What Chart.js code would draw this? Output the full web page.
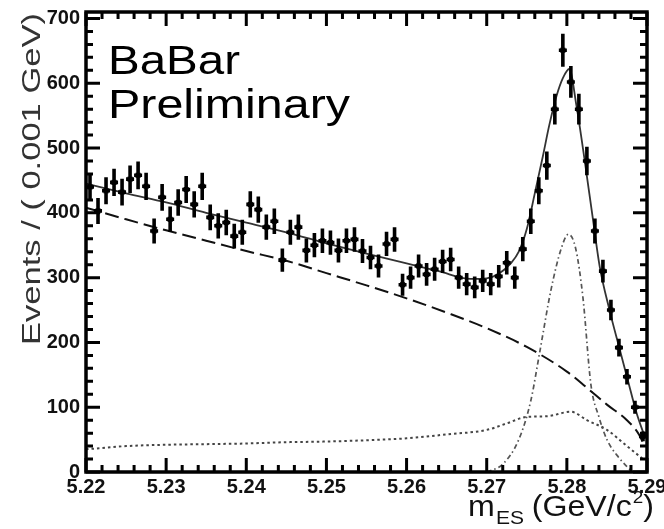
<!DOCTYPE html>
<html>
<head>
<meta charset="utf-8">
<script src="https://cdn.jsdelivr.net/npm/chart.js@4.4.1/dist/chart.umd.min.js"></script>
<style>
  html, body { margin: 0; padding: 0; background: #fff; }
  canvas { display: block; }
</style>
</head>
<body>
<canvas id="mesChart" width="664" height="529"></canvas>
<script>
// bin centres (GeV/c^2), 1 MeV bins
const binCenters = [
  5.2205, 5.2215, 5.2225, 5.2235, 5.2245, 5.2255, 5.2265, 5.2275, 5.2285, 5.2295,
  5.2305, 5.2315, 5.2325, 5.2335, 5.2345, 5.2355, 5.2365, 5.2375, 5.2385, 5.2395,
  5.2405, 5.2415, 5.2425, 5.2435, 5.2445, 5.2455, 5.2465, 5.2475, 5.2485, 5.2495,
  5.2505, 5.2515, 5.2525, 5.2535, 5.2545, 5.2555, 5.2565, 5.2575, 5.2585, 5.2595,
  5.2605, 5.2615, 5.2625, 5.2635, 5.2645, 5.2655, 5.2665, 5.2675, 5.2685, 5.2695,
  5.2705, 5.2715, 5.2725, 5.2735, 5.2745, 5.2755, 5.2765, 5.2775, 5.2785, 5.2795,
  5.2805, 5.2815, 5.2825, 5.2835, 5.2845, 5.2855, 5.2865, 5.2875, 5.2885, 5.2895
];
const eventCounts = [
  440, 403, 434, 447, 432, 452, 458, 441, 372, 424,
  390, 416, 436, 413, 441, 393, 380, 385, 364, 370,
  413, 405, 378, 387, 327, 370, 378, 342, 350, 357,
  354, 342, 357, 359, 341, 331, 318, 352, 359, 289,
  300, 318, 305, 313, 325, 328, 300, 290, 285, 295,
  290, 302, 323, 300, 344, 387, 434, 473, 560, 651,
  602, 560, 480, 372, 310, 250, 192, 147, 100, 55
];

// total fit (solid)
const totalX = [5.220, 5.225, 5.230, 5.235, 5.240, 5.245, 5.250, 5.255, 5.260, 5.264, 5.268, 5.270, 5.2715,
  5.273, 5.274, 5.275, 5.276, 5.277, 5.2778, 5.2787, 5.2795, 5.2803, 5.2812, 5.2822, 5.2832, 5.2841,
  5.2853, 5.2866, 5.2876, 5.2887, 5.2897];
const totalY = [445, 430, 416, 400, 385, 370, 353, 337, 322, 310, 298, 299, 306,
  322, 340, 375, 430, 487, 535, 580, 608, 622, 565, 483, 395, 317,
  251, 189, 142, 91, 55];

// combinatorial background (dashed)
const combX = [5.220, 5.225, 5.230, 5.235, 5.240, 5.245, 5.250, 5.255, 5.260, 5.265, 5.270, 5.275, 5.280,
  5.2825, 5.285, 5.2875, 5.289, 5.2895];
const combY = [408, 390, 373, 357, 341, 326, 307, 288, 268, 246, 222, 193, 155,
  130, 104, 80, 58, 45];

// signal (dash-dot)
const sigX = [5.2700, 5.2720, 5.2740, 5.2755, 5.2766, 5.2780, 5.2793, 5.2802, 5.2811, 5.2820,
  5.2830, 5.2840, 5.2850, 5.2865, 5.2880];
const sigY = [0, 12, 50, 110, 184, 280, 345, 367, 345, 270, 135, 85, 50, 22, 2];

// peaking background (dotted)
const peakX = [5.220, 5.225, 5.230, 5.235, 5.240, 5.245, 5.250, 5.255, 5.260, 5.265, 5.270, 5.2725,
  5.275, 5.2775, 5.2805, 5.2825, 5.285, 5.2875, 5.2895];
const peakY = [35, 40, 42, 43, 44, 46, 47, 49, 52, 58, 65, 75, 85, 86, 93, 80, 65, 40, 20];

const xTicks = [5.22, 5.23, 5.24, 5.25, 5.26, 5.27, 5.28, 5.29];
const yTicks = [0, 100, 200, 300, 400, 500, 600, 700];

const toPts = (xs, ys) => xs.map((x, i) => ({ x: x, y: ys[i] }));
const FONT = '"Liberation Sans", Arial, sans-serif';

// error bars (sqrt N) over the data markers
const errorBarPlugin = {
  id: 'errorBars',
  afterDatasetsDraw(chart) {
    const ctx = chart.ctx;
    const xs = chart.scales.x, ys = chart.scales.y;
    ctx.save();
    ctx.strokeStyle = '#000';
    ctx.lineWidth = 3.6;
    binCenters.forEach((c, i) => {
      const n = eventCounts[i];
      const err = Math.sqrt(n);
      const px = xs.getPixelForValue(c);
      const hw = xs.getPixelForValue(c + 0.0005) - px;
      ctx.beginPath();
      ctx.moveTo(px, ys.getPixelForValue(n - err));
      ctx.lineTo(px, ys.getPixelForValue(n + err));
      ctx.moveTo(px - hw, ys.getPixelForValue(n));
      ctx.lineTo(px + hw, ys.getPixelForValue(n));
      ctx.stroke();
    });
    ctx.restore();
  }
};

// frame with ticks pointing inwards on all four sides
const framePlugin = {
  id: 'frame',
  afterDraw(chart) {
    const ctx = chart.ctx;
    const a = chart.chartArea;
    const xs = chart.scales.x, ys = chart.scales.y;
    ctx.save();
    ctx.strokeStyle = '#000';
    ctx.lineWidth = 3;
    ctx.beginPath();
    for (let k = 0; k <= 35; k++) {
      const px = xs.getPixelForValue(5.22 + k * 0.002);
      const len = (k % 5 === 0) ? 14 : 7;
      ctx.moveTo(px, a.bottom);
      ctx.lineTo(px, a.bottom - len);
      ctx.moveTo(px, a.top);
      ctx.lineTo(px, a.top + len);
    }
    for (let k = 0; k <= 35; k++) {
      const py = ys.getPixelForValue(k * 20);
      const len = (k % 5 === 0) ? 14 : 7;
      ctx.moveTo(a.left, py);
      ctx.lineTo(a.left + len, py);
      ctx.moveTo(a.right, py);
      ctx.lineTo(a.right - len, py);
    }
    ctx.stroke();
    ctx.lineWidth = 3.5;
    ctx.strokeRect(a.left, a.top, a.right - a.left, a.bottom - a.top);
    ctx.restore();
  }
};

// texts drawn on the canvas
const textPlugin = {
  id: 'texts',
  afterDraw(chart) {
    const ctx = chart.ctx;
    ctx.save();
    const drawStretched = (txt, x, y, targetW) => {
      const w = ctx.measureText(txt).width;
      ctx.save();
      ctx.translate(x, y);
      ctx.scale(targetW / w, 1);
      ctx.fillText(txt, 0, 0);
      ctx.restore();
    };

    // BaBar Preliminary
    ctx.fillStyle = '#000';
    ctx.textBaseline = 'alphabetic';
    ctx.textAlign = 'left';
    ctx.font = '41px ' + FONT;
    drawStretched('BaBar', 108, 74, 132);
    drawStretched('Preliminary', 108, 118, 242);

    // y title, rotated
    ctx.fillStyle = '#333';
    ctx.font = '26px ' + FONT;
    const yt = 'Events / ( 0.001 GeV)';
    const yw = ctx.measureText(yt).width;
    ctx.save();
    ctx.translate(40, 345);
    ctx.rotate(-Math.PI / 2);
    ctx.scale(332 / yw, 1);
    ctx.fillText(yt, 0, 0);
    ctx.restore();

    // x title m_ES (GeV/c^2), composed of pieces
    const parts = [
      { t: 'm', f: 29, dy: 0, gap: 1 },
      { t: 'ES', f: 19, dy: 8, gap: 7 },
      { t: '(GeV/c', f: 29, dy: 0, gap: 1 },
      { t: '2', f: 17, dy: -13, gap: 0 },
      { t: ')', f: 29, dy: 0, gap: 0 }
    ];
    let total = 0;
    parts.forEach(p => { ctx.font = p.f + 'px ' + FONT; p.w = ctx.measureText(p.t).width; total += p.w + p.gap; });
    ctx.save();
    ctx.fillStyle = '#111';
    ctx.translate(468, 516);
    ctx.scale(186 / total, 1);
    let cx = 0;
    parts.forEach(p => {
      ctx.font = p.f + 'px ' + FONT;
      ctx.fillText(p.t, cx, p.dy);
      cx += p.w + p.gap;
    });
    ctx.restore();
    ctx.restore();
  }
};

const ctx = document.getElementById('mesChart').getContext('2d');
new Chart(ctx, {
  data: {
    datasets: [{
      type: 'scatter',
      label: 'data',
      data: toPts(binCenters, eventCounts),
      pointStyle: 'rect',
      pointRadius: 3.6,
      backgroundColor: '#000',
      borderColor: '#000',
      borderWidth: 0,
      order: 0
    }, {
      type: 'line',
      label: 'total',
      data: toPts(totalX, totalY),
      borderColor: '#333',
      borderWidth: 1.8,
      pointRadius: 0,
      cubicInterpolationMode: 'monotone',
      fill: false,
      order: 1
    }, {
      type: 'line',
      label: 'combinatorial',
      data: toPts(combX, combY),
      borderColor: '#111',
      borderWidth: 2,
      borderDash: [14, 6],
      pointRadius: 0,
      cubicInterpolationMode: 'monotone',
      fill: false,
      order: 2
    }, {
      type: 'line',
      label: 'signal',
      data: toPts(sigX, sigY),
      borderColor: '#555',
      borderWidth: 1.7,
      borderDash: [5, 3, 1.5, 3],
      pointRadius: 0,
      cubicInterpolationMode: 'monotone',
      fill: false,
      order: 3
    }, {
      type: 'line',
      label: 'peaking',
      data: toPts(peakX, peakY),
      borderColor: '#444',
      borderWidth: 2,
      borderDash: [2.5, 3],
      pointRadius: 0,
      cubicInterpolationMode: 'monotone',
      fill: false,
      order: 4
    }]
  },
  options: {
    responsive: false,
    animation: false,
    layout: { padding: { top: 12, right: 17, left: 0, bottom: 0 } },
    plugins: { legend: { display: false }, tooltip: { enabled: false } },
    scales: {
      x: {
        type: 'linear',
        min: 5.22,
        max: 5.29,
        grid: { display: false, drawTicks: false },
        border: { display: false },
        afterBuildTicks: s => { s.ticks = xTicks.map(v => ({ value: v })); },
        afterFit: s => { s.height = 57; s.paddingLeft = 0; s.paddingRight = 0; },
        ticks: {
          autoSkip: false,
          maxRotation: 0,
          padding: 3,
          color: '#111',
          font: { family: FONT, size: 20, weight: 'bold' },
          callback: v => v.toFixed(2)
        }
      },
      y: {
        type: 'linear',
        min: 0,
        max: 710,
        grid: { display: false, drawTicks: false },
        border: { display: false },
        afterBuildTicks: s => { s.ticks = yTicks.map(v => ({ value: v })); },
        afterFit: s => { s.width = 86; s.paddingTop = 0; s.paddingBottom = 0; },
        ticks: {
          padding: 6,
          color: '#111',
          font: { family: FONT, size: 20, weight: 'bold' }
        }
      }
    }
  },
  plugins: [errorBarPlugin, framePlugin, textPlugin]
});
</script>
</body>
</html>
